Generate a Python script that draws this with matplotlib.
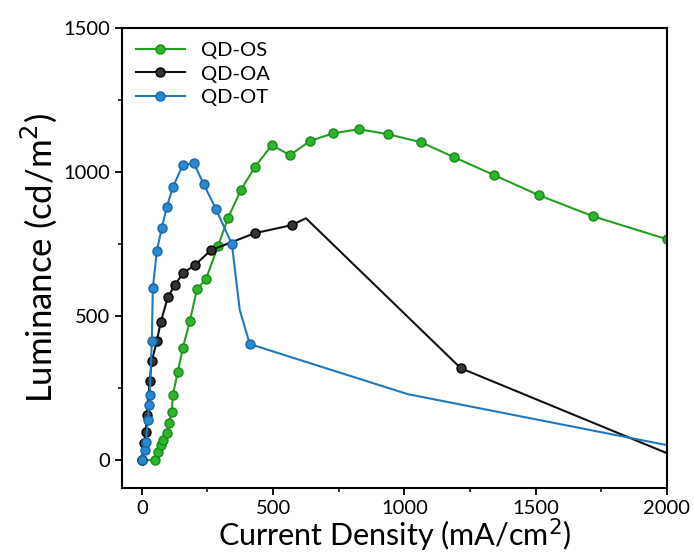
import matplotlib.pyplot as plt
from matplotlib.ticker import MultipleLocator

plt.rcParams['font.family'] = ['Lato', 'DejaVu Sans']

# QD-OS (green)
os_x = [0, 49, 61, 72, 80, 95, 103, 114, 118, 137, 156, 183, 210, 244, 290, 328, 377,
        430, 495, 564, 640, 728, 827, 937, 1063, 1189, 1341, 1512, 1718, 2000]
os_y = [0, 0, 28, 52, 69, 94, 128, 167, 226, 306, 389, 483, 594, 628, 743, 840, 938,
        1017, 1094, 1059, 1108, 1135, 1149, 1132, 1104, 1052, 990, 920, 847, 767]

# QD-OA (black)
oa_x = [0, 8, 15, 19, 30, 38, 57, 72, 99, 126, 156, 202, 263, 430, 571, 625, 1215, 2000]
oa_y = [0, 59, 97, 156, 274, 344, 413, 479, 566, 608, 649, 677, 729, 788, 816, 840, 319, 24]
oa_marked = [0, 1, 2, 3, 4, 5, 6, 7, 8, 9, 10, 11, 12, 13, 14, 16]

# QD-OT (blue)
ot_x = [0, 11, 15, 23, 27, 30, 38, 42, 57, 76, 95, 118, 156, 198, 236, 282, 343,
        373, 411, 1013, 2000]
ot_y = [0, 35, 62, 139, 191, 226, 413, 597, 726, 806, 878, 948, 1024, 1031, 958,
        872, 750, 521, 403, 229, 52]
ot_marked = [0, 1, 2, 3, 4, 5, 6, 7, 8, 9, 10, 11, 12, 13, 14, 15, 16, 18]

fig = plt.figure(figsize=(6.94, 5.53), dpi=100)
ax = fig.add_axes([0.176, 0.1175, 0.785, 0.8315])

ax.plot(os_x, os_y, '-o', color='#22a022', mfc='#2db52d', mec='#178a17', ms=6.5, lw=1.5,
        label='QD-OS')
ax.plot(oa_x, oa_y, '-o', color='#111111', mfc='#333333', mec='#000000', ms=6.5, lw=1.5,
        markevery=oa_marked, label='QD-OA')
ax.plot(ot_x, ot_y, '-o', color='#1f78c0', mfc='#2a88d0', mec='#1666a8', ms=6.5, lw=1.5,
        markevery=ot_marked, label='QD-OT')

ax.set_xlim(-75, 2000)
ax.set_ylim(-97, 1500)
ax.xaxis.set_major_locator(MultipleLocator(500))
ax.xaxis.set_minor_locator(MultipleLocator(250))
ax.yaxis.set_major_locator(MultipleLocator(500))
ax.yaxis.set_minor_locator(MultipleLocator(250))
ax.tick_params(which='major', direction='out', length=5, width=1.3, labelsize=14.5)
ax.tick_params(which='minor', direction='out', length=3, width=1.1)
for s in ax.spines.values():
    s.set_linewidth(1.5)

ax.set_xlabel('Current Density (mA/cm$^2$)', fontsize=22, labelpad=0)
ax.set_ylabel('Luminance (cd/m$^2$)', fontsize=25, labelpad=3)

ax.legend(loc='upper left', frameon=False, fontsize=14.5, handlelength=2.4,
          borderaxespad=0.3, labelspacing=0.3)

fig.savefig('out.png', dpi=100)
